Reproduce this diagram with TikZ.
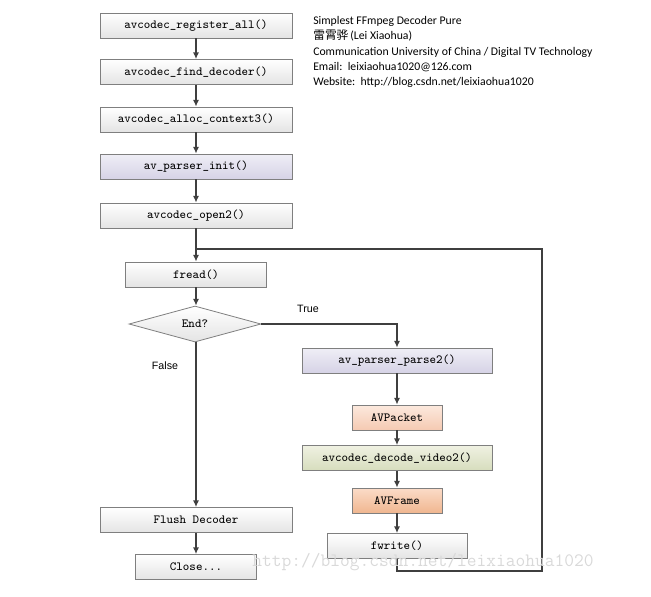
\documentclass[tikz,border=0pt]{standalone}
\usepackage{fontspec}
\newfontfamily\infofont{Carlito}
\newfontfamily\labelfont{Liberation Sans}
\newfontfamily\cjk{Noto Sans CJK SC}
\usetikzlibrary{shapes.geometric,arrows.meta}

\definecolor{boxline}{HTML}{7F7F7F}
\definecolor{flowline}{HTML}{3F3F3F}
\definecolor{grayB}{HTML}{E4E4E4}
\definecolor{purpleT}{HTML}{EFEEF6}
\definecolor{purpleB}{HTML}{D6D3E6}
\definecolor{peachT}{HTML}{FCE9DE}
\definecolor{peachB}{HTML}{F5CAB2}
\definecolor{greenT}{HTML}{EFF1E2}
\definecolor{greenB}{HTML}{D7DDBD}
\definecolor{orangeT}{HTML}{FBDCC8}
\definecolor{orangeB}{HTML}{F0B690}

\begin{document}
\begin{tikzpicture}[
			x=0.75pt, y=-0.75pt,
			box/.style={draw=boxline, line width=0.6pt, minimum height=18.75pt, inner sep=0pt,
				font=\fontsize{9.3}{11}\ttfamily, top color=white, bottom color=grayB},
			funcbox/.style={box, top color=purpleT, bottom color=purpleB},
			packetbox/.style={box, top color=peachT, bottom color=peachB},
			decodebox/.style={box, top color=greenT, bottom color=greenB},
			framebox/.style={box, top color=orangeT, bottom color=orangeB},
			decision/.style={diamond, draw=boxline, line width=0.6pt, inner sep=0pt, aspect=3.67,
				minimum width=99pt, minimum height=27pt, font=\fontsize{9.3}{11}\ttfamily,
				top color=white, bottom color=grayB},
			flow/.style={draw=flowline, line width=0.9pt, -{Latex[length=5pt,width=4.5pt]}},
			link/.style={draw=flowline, line width=0.9pt},
			tag/.style={font=\fontsize{8}{10}\labelfont, text=black}
			]
			\useasboundingbox (0,0) rectangle (651,597);

			% main column
			\node[box, minimum width=144pt] (reg) at (196,25.5) {avcodec\_register\_all()};
			\node[box, minimum width=144pt] (find) at (196,72) {avcodec\_find\_decoder()};
			\node[box, minimum width=144pt] (alloc) at (196,119.5) {avcodec\_alloc\_context3()};
			\node[funcbox, minimum width=144pt] (init) at (196,166.5) {av\_parser\_init()};
			\node[box, minimum width=144pt] (open) at (196,215.5) {avcodec\_open2()};
			\node[box, minimum width=105.75pt] (fread) at (196,274.5) {fread()};
			\node[decision] (end) at (195,324) {End?};
			\node[box, minimum width=144pt] (flush) at (196,520) {Flush Decoder};
			\node[box, minimum width=90.75pt] (close) at (196,567) {Close...};

			% decoding column
			\node[funcbox, minimum width=142.5pt] (parse) at (397,360.5) {av\_parser\_parse2()};
			\node[packetbox, minimum width=67.5pt] (packet) at (397,417.5) {AVPacket};
			\node[decodebox, minimum width=142.5pt] (decode) at (397,458) {avcodec\_decode\_video2()};
			\node[framebox, minimum width=67.5pt] (frame) at (397,500.5) {AVFrame};
			\node[box, minimum width=105pt] (fwrite) at (397,546) {fwrite()};

			% loop corners
			\coordinate (join) at (196,249);
			\coordinate (looptop) at (542,249);
			\coordinate (loopbot) at (542,571);

			\draw[flow] (reg) -- (find);
			\draw[flow] (find) -- (alloc);
			\draw[flow] (alloc) -- (init);
			\draw[flow] (init) -- (open);
			\draw[flow] (open) -- (fread);
			\draw[flow] (fread) -- (fread |- end.north);
			\draw[flow] (end.east) -| (parse.north);
			\draw[flow] (end.south -| flush) -- (flush.north);
			\draw[flow] (flush) -- (close);
			\draw[flow] (parse) -- (packet);
			\draw[flow] (packet) -- (decode);
			\draw[flow] (decode) -- (frame);
			\draw[flow] (frame) -- (fwrite);
			\draw[link] (fwrite.south) |- (loopbot) -- (looptop) -- (join);

			\node[tag] (truelabel) at (308,309) {True};
			\node[tag] (falselabel) at (165,366) {False};

			% author info
			\node[anchor=north west, align=left, inner sep=0pt, font=\fontsize{8.8}{11.5}\infofont] (info) at (313,16)
			{Simplest FFmpeg Decoder Pure\\
			{\cjk 雷霄骅}\,(Lei Xiaohua)\\
			Communication University of China / Digital TV Technology\\
			Email:\ \ leixiaohua1020@126.com\\
			Website:\ \ http://blog.csdn.net/leixiaohua1020};

			% watermark
			\node[text=gray!30, font=\fontsize{14.2}{16}\ttfamily] (mark) at (423,562) {http://blog.csdn.net/leixiaohua1020};
		\end{tikzpicture}
\end{document}
